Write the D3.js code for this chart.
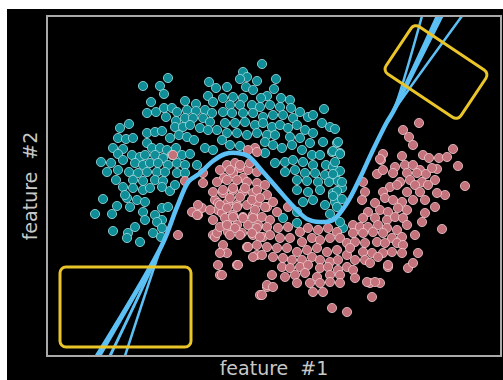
<!DOCTYPE html>
<html>
<head>
<meta charset="utf-8">
<script src="https://cdn.jsdelivr.net/npm/d3@7"></script>
<style>
  body { margin: 0; background: #fff; }
  svg { display: block; }
</style>
</head>
<body>
<div id="chart"></div>
<script>
// class 0 (teal moon), feature units
const tealPoints = [
  [121,278],[96,270],[113,270],[117,262],[104,254],[162,274],[169,268],[138,255],[149,252],[161,260],[166,254],[100,243],[109,244],[117,248],[125,248],[130,244],[140,246],[149,245],[158,246],[165,243],[119,239],[129,235],[138,238],[146,238],[156,238],[163,234],[82,232],[73,228],[128,229],[136,229],[143,231],[153,228],[161,226],[170,226],[71,218],[79,217],[86,218],[100,223],[108,224],[115,225],[123,218],[132,221],[140,219],[147,216],[158,208],[166,206],[66,208],[76,207],[71,202],[100,213],[105,208],[113,208],[120,206],[129,208],[135,201],[143,202],[85,201],[93,199],[98,201],[108,201],[116,198],[125,201],[54,194],[64,193],[76,196],[88,193],[96,191],[103,193],[111,193],[121,191],[130,193],[138,191],[150,191],[60,184],[71,186],[82,184],[91,183],[100,184],[110,184],[118,184],[130,183],[138,183],[69,176],[86,176],[96,175],[108,176],[116,175],
  [215,292],[196,284],[200,279],[193,277],[210,275],[229,277],[180,269],[199,269],[206,266],[227,267],[220,260],[214,258],[176,258],[186,259],[196,258],[234,258],[243,256],[183,251],[193,251],[205,251],[213,249],[223,251],[233,249],[244,248],[277,247],[253,244],[261,239],[266,241],[176,244],[185,243],[196,243],[206,243],[216,239],[226,241],[236,241],[246,238],[275,233],[283,229],[178,233],[188,233],[198,234],[208,231],[216,233],[225,229],[233,231],[241,228],[250,231],[258,226],[266,223],[180,223],[190,223],[200,221],[210,223],[220,221],[228,221],[243,219],[253,218],[263,213],[276,214],[290,213],[183,211],[193,210],[218,214],[226,211],[235,208],[245,211],[255,206],[265,201],[273,201],[285,204],[293,203],[218,203],[228,193],[238,194],[246,196],[256,194],[266,191],[279,191],[286,189],[238,184],[248,186],[258,183],[268,183],[278,181],[288,181],[250,176],[260,175],[271,174],[282,174],[291,175],[175,216],
  [250,166],[261,164],[273,166],[286,163],[295,168],[256,154],[266,156],[278,151],[288,154],[250,144],[236,138],[250,133],[296,128],[293,134],
  [56,157],[48,142],[65,142],[70,150],[80,158],[83,149],[90,156],[98,154],[76,169],[86,168],[96,166],[103,168],[115,169],[123,165],[128,171],[96,144],[98,136],[108,141],[115,148],[121,149],[115,136],[110,134],[88,129],[81,123],[66,125],[93,114],[106,123],[115,128],[114,119],[80,118],[78,161],
  [288,227],[291,214],[286,205],[293,202],[288,194],[293,185],[286,182],[295,174],[290,165],[286,160],[295,157],[290,149],[283,142]
];

// class 1 (pink moon)
const pinkPoints = [
  [126,201],[156,183],[138,175],[208,208],[201,206],[210,204],[180,191],[188,193],[193,188],[186,183],[201,186],[196,178],[177,178],[210,184],[131,121],[145,144],[155,148],[151,141],[168,156],[171,146],[166,121],[171,91],[151,151],[173,81],[190,91],[156,173],[166,136],[168,119],
  [173,186],[183,186],[193,191],[203,193],[170,174],[180,176],[190,176],[200,174],[210,173],[218,171],[166,164],[176,163],[186,166],[196,164],[206,163],[171,153],[181,154],[190,151],[200,151],[210,153],[220,149],[163,146],[175,143],[186,141],[196,139],[206,141],[180,133],[190,131],[201,131],[211,131],[170,123],[181,124],[195,123],[206,121],[216,119],[175,104],[180,103],[200,109],[210,101],[220,69],[213,61],[150,141],[175,81],
  [176,166],[186,168],[198,168],[210,166],[220,161],[183,158],[193,159],[205,156],[213,158],[173,151],[180,148],[190,149],[208,146],[218,149],[226,154],[230,144],[241,149],[178,138],[186,139],[196,138],[206,138],[215,139],[223,136],[173,129],[180,131],[188,128],[210,128],[220,129],[231,128],[241,129],[253,124],[261,128],[271,126],[281,128],[290,124],[183,121],[193,121],[205,123],[213,119],[223,121],[233,118],[243,118],[255,114],[265,118],[273,116],[283,118],[293,118],[300,113],[176,111],[201,109],[210,111],[220,109],[230,108],[240,108],[250,104],[260,106],[270,108],[280,104],[290,106],[173,103],[206,99],[215,101],[226,99],[236,98],[245,96],[255,96],[265,99],[273,96],[283,94],[291,96],[300,101],[191,91],[235,89],[243,88],[253,89],[261,91],[273,88],[281,89],[291,86],[300,89],[225,81],[238,79],[248,81],[258,83],[270,79],[283,81],[293,81],[263,73],[273,73],[283,74],[250,73],[293,73],[220,71],[226,69],[266,64],[276,64],[215,61],[285,48],[300,44],
  [325,59],[323,73],[333,73],[341,89],[361,88],[366,93],[371,103],
  [372,233],[356,226],[362,219],[366,211],[406,207],[336,202],[334,196],[355,200],[376,201],[382,198],[392,198],[400,199],[411,190],[348,189],[358,191],[366,191],[373,186],[390,187],[330,182],[336,186],[346,183],[360,183],[370,183],[379,182],[316,174],[353,174],[363,176],[375,174],[388,176],[418,170],[343,169],[350,171],[368,171],[381,171],[318,164],[315,156],[336,164],[360,164],[373,164],[398,161],[328,153],[338,158],[346,156],[355,154],[366,156],[378,156],[388,149],[321,144],[333,146],[341,144],[351,148],[360,146],[378,143],[316,138],[328,138],[340,136],[348,139],[356,138],[375,134],[395,127],[306,131],[313,129],[321,129],[331,131],[340,128],[350,126],[360,131],[368,121],[306,123],[316,123],[326,124],[336,123],[345,118],[355,119],[308,114],[318,113],[330,114],[338,113],[350,113],[356,111],[303,108],[316,104],[325,103],[336,103],[345,104],[355,103],[308,96],[318,96],[331,99],[341,91],[323,93],[306,86],[320,74],[328,74],[308,78],
  [333,197],[385,188],[390,163]
];

// shared middle part of the decision boundaries
const boundaryCore = [
  [115,111],[130,149],[142,175],[152,182],[166,195],[178,202],[190,203],[201,200],[216,184],[230,168],
  [246,150],[260,137],[273,134],[286,136],[300,153],[313,178],[326,206],[340,234],[346,244]
];
// each boundary run: where it enters at the bottom and leaves at the top
const boundaryStarts = [[50,0],[53,0],[63,0],[78,0]];
const boundaryEnds   = [[391,340],[375,340],[395,340],[415,340]];
const boundaryWidths = [4.5, 2.5, 3, 2.5];

// highlighted regions (centre, size, rotation in degrees)
const regionCentres = [[78.5,49],[389,284]];
const regionSizes   = [[131,80],[90,57]];
const regionAngles  = [0, 33.7];

const xLabel = 'feature  #1';
const yLabel = 'feature  #2';

const width = 503, height = 380;

const svg = d3.select('#chart').append('svg')
  .attr('width', width)
  .attr('height', height);

// black canvas (white margin on top/left like the screenshot)
svg.append('rect')
  .attr('x', 7).attr('y', 9)
  .attr('width', width - 7).attr('height', height - 9)
  .style('fill', '#000');

const x = d3.scaleLinear().domain([0, 454]).range([47, 501]);
const y = d3.scaleLinear().domain([0, 340]).range([356, 16]);

svg.append('defs').append('clipPath').attr('id', 'plotclip')
  .append('rect')
  .attr('x', x(0)).attr('y', y(340))
  .attr('width', x(454) - x(0)).attr('height', y(0) - y(340));

const plot = svg.append('g').attr('clip-path', 'url(#plotclip)');

function drawPoints(data, fill, stroke) {
  plot.append('g')
    .selectAll('circle')
    .data(data)
    .enter()
    .append('circle')
    .attr('cx', d => x(d[0]))
    .attr('cy', d => y(d[1]))
    .attr('r', 4.6)
    .style('fill', fill)
    .style('stroke', stroke)
    .style('stroke-width', 0.8);
}

drawPoints(tealPoints, '#108e98', '#9fdde2');
drawPoints(pinkPoints, '#c4737c', '#f0c9cd');

const line = d3.line()
  .x(d => x(d[0]))
  .y(d => y(d[1]))
  .curve(d3.curveCatmullRom.alpha(0.5));

boundaryStarts.forEach((s, i) => {
  const pts = [s].concat(boundaryCore, [boundaryEnds[i]]);
  plot.append('path')
    .datum(pts)
    .attr('d', line)
    .style('fill', 'none')
    .style('stroke', '#5cc0f5')
    .style('stroke-width', boundaryWidths[i])
    .style('stroke-linejoin', 'round');
});

regionCentres.forEach((c, i) => {
  const w = x(regionSizes[i][0]) - x(0);
  const h = y(0) - y(regionSizes[i][1]);
  svg.append('rect')
    .attr('transform', 'translate(' + x(c[0]) + ',' + y(c[1]) + ') rotate(' + regionAngles[i] + ')')
    .attr('x', -w / 2).attr('y', -h / 2)
    .attr('width', w).attr('height', h)
    .attr('rx', 6)
    .style('fill', 'none')
    .style('stroke', '#eac52a')
    .style('stroke-width', 3);
});

// frame
svg.append('rect')
  .attr('x', x(0)).attr('y', y(340))
  .attr('width', x(454) - x(0)).attr('height', y(0) - y(340))
  .style('fill', 'none')
  .style('stroke', '#a9a9a9')
  .style('stroke-width', 2);

svg.append('text')
  .text(xLabel)
  .attr('x', (x(0) + x(454)) / 2)
  .attr('y', 375)
  .style('text-anchor', 'middle')
  .style('white-space', 'pre')
  .style('font-family', 'DejaVu Sans')
  .style('font-size', 19)
  .style('fill', '#c8c8c8');

svg.append('text')
  .text(yLabel)
  .attr('transform', 'translate(37,' + ((y(0) + y(340)) / 2) + ') rotate(-90)')
  .style('text-anchor', 'middle')
  .style('white-space', 'pre')
  .style('font-family', 'DejaVu Sans')
  .style('font-size', 19)
  .style('fill', '#c8c8c8');
</script>
</body>
</html>
